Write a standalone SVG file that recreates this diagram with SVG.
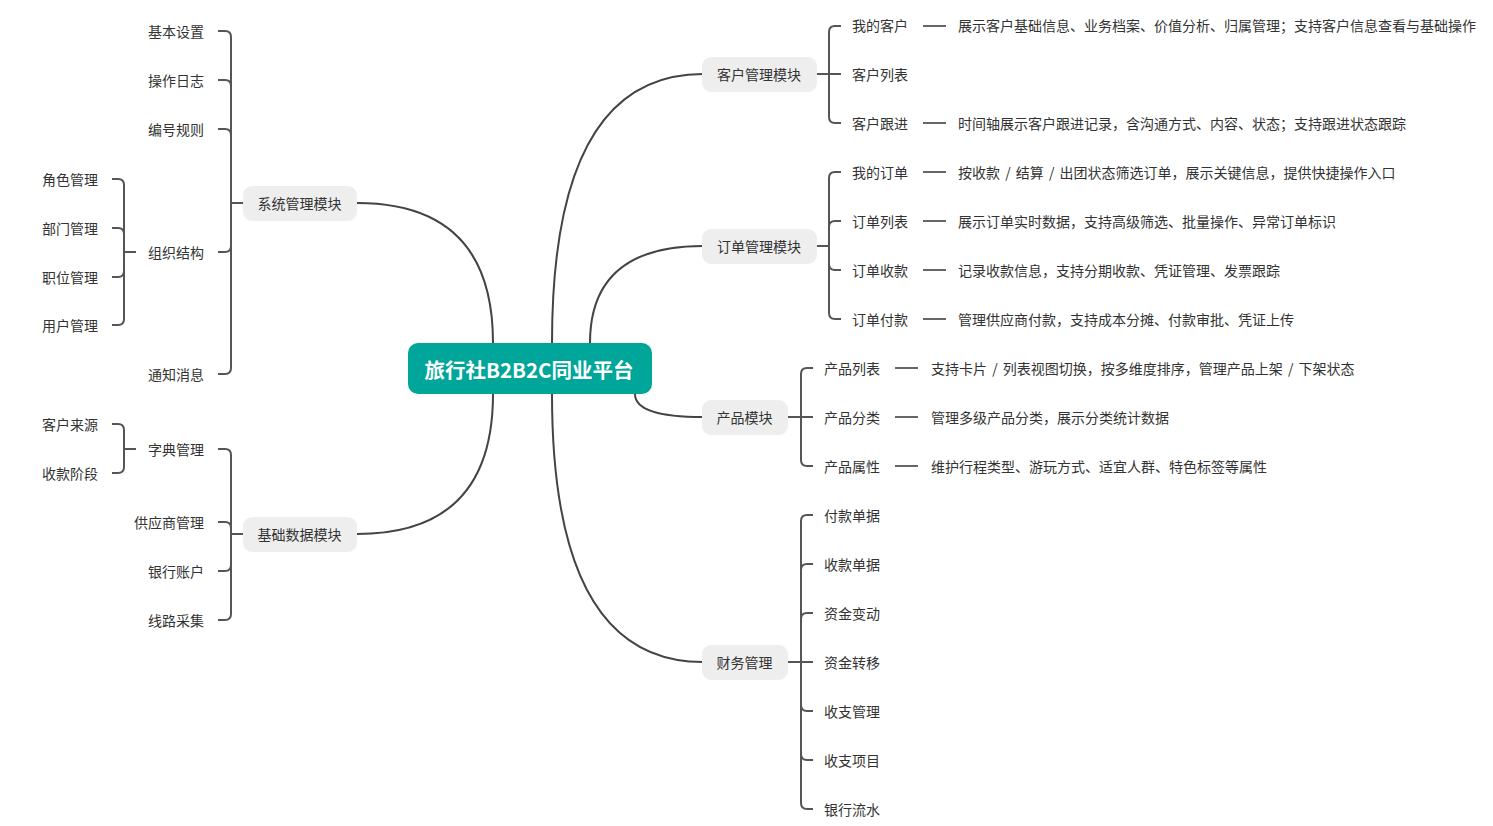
<svg xmlns="http://www.w3.org/2000/svg" width="1493" height="826" viewBox="0 0 1493 826">
<style>
.t{font-family:"Noto Sans CJK SC","Microsoft YaHei",sans-serif;font-size:14px;fill:#333;dominant-baseline:central}
.e{text-anchor:end}
.m{text-anchor:middle}
.l{fill:none;stroke:#555;stroke-width:2}
.c{fill:none;stroke:#444;stroke-width:2}
.d{fill:none;stroke:#666;stroke-width:2}
.mod{fill:#EEEEEE}
.root{fill:#00A699}
.rt{font-family:"Noto Sans CJK SC","Microsoft YaHei",sans-serif;font-size:20.5px;font-weight:bold;fill:#fff;text-anchor:middle;dominant-baseline:central}
.ws{word-spacing:2px}
</style>
<rect width="1493" height="826" fill="#fff"/>
<g id="connectors">
<path class="c" d="M552,343 Q552,74 703,74"/>
<path class="c" d="M590,343 Q590,246 703,246"/>
<path class="c" d="M635,394 Q635,417 703,417"/>
<path class="c" d="M552,394 Q552,662 703,662"/>
<path class="c" d="M493,343 Q493,203 357,203"/>
<path class="c" d="M493,394 Q493,534 357,534"/>
<path class="l" d="M817,74 L841,74"/>
<path class="l" d="M829,74 L829,32 Q829,26 835,26 L841,26"/>
<path class="l" d="M829,74 L829,117 Q829,123 835,123 L841,123"/>
<path class="l" d="M817,246 L829,246"/>
<path class="l" d="M829,246 L829,178 Q829,172 835,172 L841,172"/>
<path class="l" d="M829,246 L829,227 Q829,221 835,221 L841,221"/>
<path class="l" d="M829,246 L829,264 Q829,270 835,270 L841,270"/>
<path class="l" d="M829,246 L829,313 Q829,319 835,319 L841,319"/>
<path class="l" d="M788,417 L813,417"/>
<path class="l" d="M801,417 L801,374 Q801,368 807,368 L813,368"/>
<path class="l" d="M801,417 L801,460 Q801,466 807,466 L813,466"/>
<path class="l" d="M788,662 L813,662"/>
<path class="l" d="M801,662 L801,521 Q801,515 807,515 L813,515"/>
<path class="l" d="M801,662 L801,570 Q801,564 807,564 L813,564"/>
<path class="l" d="M801,662 L801,619 Q801,613 807,613 L813,613"/>
<path class="l" d="M801,662 L801,705 Q801,711 807,711 L813,711"/>
<path class="l" d="M801,662 L801,754 Q801,760 807,760 L813,760"/>
<path class="l" d="M801,662 L801,803 Q801,809 807,809 L813,809"/>
<path class="l" d="M243,203 L231,203"/>
<path class="l" d="M231,203 L231,37 Q231,31 225,31 L218,31"/>
<path class="l" d="M231,203 L231,86 Q231,80 225,80 L218,80"/>
<path class="l" d="M231,203 L231,135 Q231,129 225,129 L218,129"/>
<path class="l" d="M231,203 L231,246 Q231,252 225,252 L218,252"/>
<path class="l" d="M231,203 L231,368 Q231,374 225,374 L218,374"/>
<path class="l" d="M136,252 L124,252"/>
<path class="l" d="M124,252 L124,185 Q124,179 118,179 L112,179"/>
<path class="l" d="M124,252 L124,234 Q124,228 118,228 L112,228"/>
<path class="l" d="M124,252 L124,271 Q124,277 118,277 L112,277"/>
<path class="l" d="M124,252 L124,319 Q124,325 118,325 L112,325"/>
<path class="l" d="M243,534 L231,534"/>
<path class="l" d="M231,534 L231,455 Q231,449 225,449 L218,449"/>
<path class="l" d="M231,534 L231,528 Q231,522 225,522 L218,522"/>
<path class="l" d="M231,534 L231,565 Q231,571 225,571 L218,571"/>
<path class="l" d="M231,534 L231,614 Q231,620 225,620 L218,620"/>
<path class="l" d="M136,449 L124,449"/>
<path class="l" d="M124,449 L124,430 Q124,424 118,424 L112,424"/>
<path class="l" d="M124,449 L124,467 Q124,473 118,473 L112,473"/>
<path class="d" d="M923,26 L946,26 M923,123 L946,123 M923,172 L946,172 M923,221 L946,221 M923,270 L946,270 M923,319 L946,319 M895,368 L918,368 M895,417 L918,417 M895,466 L918,466"/>
</g>
<g id="root"><rect class="root" x="408" y="343" width="244" height="51" rx="10"/><text class="rt" x="529" y="368.5">旅行社B2B2C同业平台</text></g>
<g id="customer"><rect class="mod" x="702" y="57" width="115" height="35" rx="9"/><text class="t m" x="759" y="73.5">客户管理模块</text></g>
<g id="order"><rect class="mod" x="702" y="229" width="115" height="35" rx="9"/><text class="t m" x="759" y="245.5">订单管理模块</text></g>
<g id="product"><rect class="mod" x="702" y="400" width="86" height="35" rx="9"/><text class="t m" x="744.5" y="416.5">产品模块</text></g>
<g id="finance"><rect class="mod" x="702" y="645" width="86" height="35" rx="9"/><text class="t m" x="744.5" y="661.5">财务管理</text></g>
<g id="system"><rect class="mod" x="243" y="186" width="114" height="35" rx="9"/><text class="t m" x="299.5" y="202.5">系统管理模块</text></g>
<g id="basedata"><rect class="mod" x="243" y="517" width="114" height="35" rx="9"/><text class="t m" x="299.5" y="533.5">基础数据模块</text></g>
<g id="customer-items">
<text class="t" x="852" y="25">我的客户</text><text class="t" x="958" y="25">展示客户基础信息、业务档案、价值分析、归属管理；支持客户信息查看与基础操作</text>
<text class="t" x="852" y="73.5">客户列表</text>
<text class="t" x="852" y="122.5">客户跟进</text><text class="t" x="958" y="122.5">时间轴展示客户跟进记录，含沟通方式、内容、状态；支持跟进状态跟踪</text>
</g>
<g id="order-items">
<text class="t" x="852" y="171.5">我的订单</text><text class="t ws" x="958" y="171.5">按收款 / 结算 / 出团状态筛选订单，展示关键信息，提供快捷操作入口</text>
<text class="t" x="852" y="220.5">订单列表</text><text class="t" x="958" y="220.5">展示订单实时数据，支持高级筛选、批量操作、异常订单标识</text>
<text class="t" x="852" y="269.5">订单收款</text><text class="t" x="958" y="269.5">记录收款信息，支持分期收款、凭证管理、发票跟踪</text>
<text class="t" x="852" y="318.5">订单付款</text><text class="t" x="958" y="318.5">管理供应商付款，支持成本分摊、付款审批、凭证上传</text>
</g>
<g id="product-items">
<text class="t" x="824" y="367.5">产品列表</text><text class="t ws" x="931" y="367.5">支持卡片 / 列表视图切换，按多维度排序，管理产品上架 / 下架状态</text>
<text class="t" x="824" y="416.5">产品分类</text><text class="t" x="931" y="416.5">管理多级产品分类，展示分类统计数据</text>
<text class="t" x="824" y="465.5">产品属性</text><text class="t" x="931" y="465.5">维护行程类型、游玩方式、适宜人群、特色标签等属性</text>
</g>
<g id="finance-items">
<text class="t" x="824" y="514.5">付款单据</text>
<text class="t" x="824" y="563.5">收款单据</text>
<text class="t" x="824" y="612.5">资金变动</text>
<text class="t" x="824" y="661.5">资金转移</text>
<text class="t" x="824" y="710.5">收支管理</text>
<text class="t" x="824" y="759.5">收支项目</text>
<text class="t" x="824" y="808.5">银行流水</text>
</g>
<g id="system-items">
<text class="t e" x="204" y="30.5">基本设置</text>
<text class="t e" x="204" y="79.5">操作日志</text>
<text class="t e" x="204" y="128.5">编号规则</text>
<text class="t e" x="204" y="251.5">组织结构</text>
<text class="t e" x="204" y="373.5">通知消息</text>
</g>
<g id="org-items">
<text class="t e" x="98" y="178.5">角色管理</text>
<text class="t e" x="98" y="227.5">部门管理</text>
<text class="t e" x="98" y="276.5">职位管理</text>
<text class="t e" x="98" y="324.5">用户管理</text>
</g>
<g id="basedata-items">
<text class="t e" x="204" y="448.5">字典管理</text>
<text class="t e" x="204" y="521.5">供应商管理</text>
<text class="t e" x="204" y="570.5">银行账户</text>
<text class="t e" x="204" y="619.5">线路采集</text>
</g>
<g id="dict-items">
<text class="t e" x="98" y="423.5">客户来源</text>
<text class="t e" x="98" y="472.5">收款阶段</text>
</g>
</svg>
